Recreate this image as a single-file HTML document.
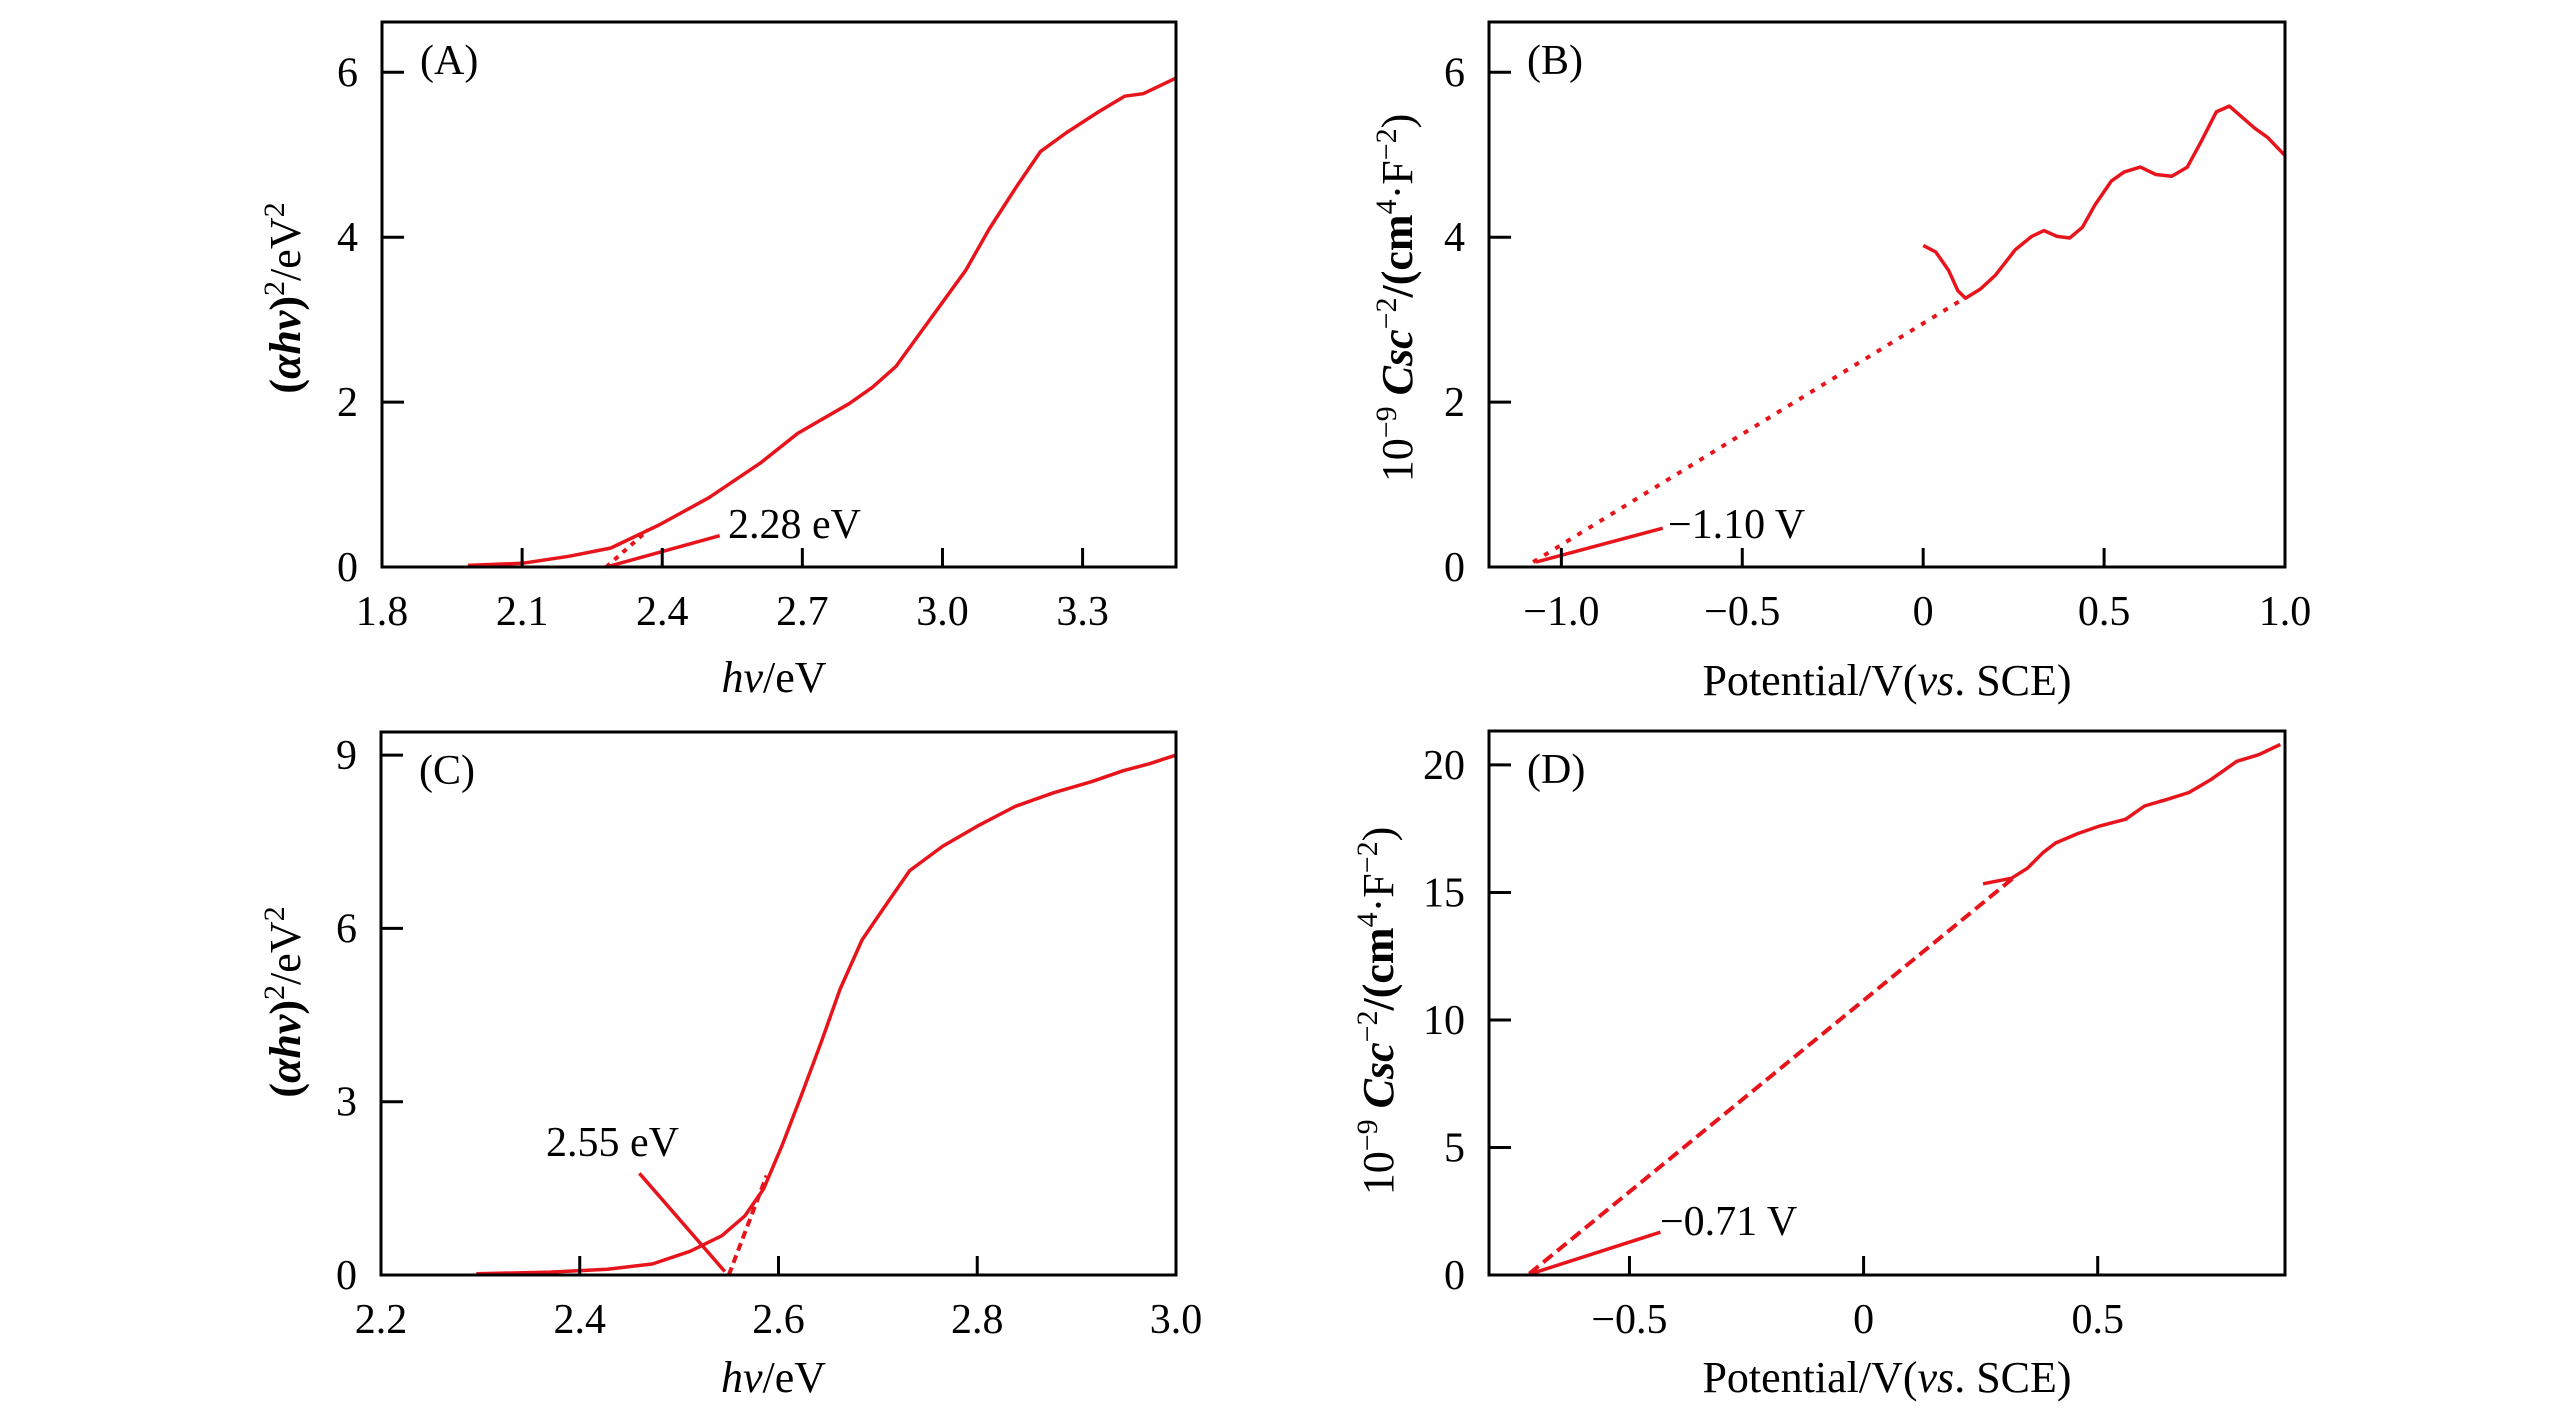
<!DOCTYPE html>
<html><head><meta charset="utf-8">
<style>
html,body{margin:0;padding:0;background:#fff;}
svg{display:block;font-family:"Liberation Serif",serif;}
</style></head>
<body>
<svg id="fig" width="2567" height="1417" viewBox="0 0 2567 1417" xmlns="http://www.w3.org/2000/svg"></svg>
<script>
// Panel A data
const aX=[1.984,2.1,2.2,2.29,2.393,2.5,2.61,2.69,2.80,2.85,2.90,2.95,3.0,3.05,3.10,3.157,3.21,3.266,3.334,3.39,3.43,3.50];
const aY=[0.02,0.045,0.13,0.23,0.51,0.84,1.26,1.62,1.98,2.18,2.43,2.82,3.21,3.60,4.10,4.60,5.04,5.27,5.52,5.71,5.74,5.93];
const aTanX=[2.28,2.37];const aTanY=[0,0.45];
const aPtrX=[2.28,2.523];const aPtrY=[0,0.38];
const aXTicks=[1.8,2.1,2.4,2.7,3.0,3.3];const aXTickLabels=["1.8","2.1","2.4","2.7","3.0","3.3"];
const aYTicks=[0,2,4,6];const aYTickLabels=["0","2","4","6"];
// Panel B data
const bX=[0.0,0.035,0.07,0.096,0.117,0.158,0.20,0.255,0.30,0.334,0.37,0.405,0.44,0.476,0.52,0.555,0.60,0.643,0.687,0.73,0.767,0.81,0.846,0.88,0.917,0.952,1.0];
const bY=[3.90,3.82,3.60,3.35,3.26,3.37,3.54,3.85,4.01,4.08,4.01,3.99,4.12,4.40,4.68,4.79,4.85,4.76,4.74,4.85,5.15,5.52,5.59,5.46,5.32,5.21,4.99];
const bTanX=[-1.078,0.114];const bTanY=[0.06,3.26];
const bPtrX=[-1.07,-0.72];const bPtrY=[0.06,0.47];
const bXTicks=[-1.0,-0.5,0,0.5,1.0];const bXTickLabels=["\u22121.0","\u22120.5","0","0.5","1.0"];
const bYTicks=[0,2,4,6];const bYTickLabels=["0","2","4","6"];
// Panel C data
const cX=[2.296,2.37,2.428,2.473,2.511,2.543,2.566,2.585,2.604,2.623,2.643,2.662,2.684,2.707,2.732,2.765,2.80,2.838,2.877,2.915,2.947,2.973,3.0];
const cY=[0.02,0.05,0.10,0.19,0.41,0.68,1.02,1.49,2.26,3.11,4.03,4.95,5.80,6.38,7.00,7.42,7.77,8.11,8.35,8.54,8.73,8.85,9.0];
const cTanX=[2.55,2.588];const cTanY=[0,1.72];
const cPtrX=[2.46,2.546];const cPtrY=[1.76,0.06];
const cXTicks=[2.2,2.4,2.6,2.8,3.0];const cXTickLabels=["2.2","2.4","2.6","2.8","3.0"];
const cYTicks=[0,3,6,9];const cYTickLabels=["0","3","6","9"];
// Panel D data
const dX=[0.255,0.316,0.35,0.383,0.41,0.458,0.505,0.56,0.60,0.648,0.695,0.743,0.797,0.844,0.89];
const dY=[15.34,15.56,15.95,16.56,16.94,17.31,17.61,17.87,18.39,18.65,18.92,19.44,20.14,20.40,20.80];
const dTanX=[-0.714,0.322];const dTanY=[0.05,15.6];
const dPtrX=[-0.71,-0.434];const dPtrY=[0.05,1.68];
const dXTicks=[-0.5,0,0.5];const dXTickLabels=["\u22120.5","0","0.5"];
const dYTicks=[0,5,10,15,20];const dYTickLabels=["0","5","10","15","20"];

const NS="http://www.w3.org/2000/svg";
const svg=document.getElementById('fig');
const RED="#e8141c";
function mk(tag,attrs,parent){const e=document.createElementNS(NS,tag);for(const k in attrs)e.setAttribute(k,attrs[k]);(parent||svg).appendChild(e);return e;}

function panel(cfg){
  const g=mk('g',{});
  
  
  const sx=v=>cfg.L+(v-cfg.x0)/(cfg.x1-cfg.x0)*(cfg.R-cfg.L);
  const sy=v=>cfg.B-(v-cfg.y0)/(cfg.y1-cfg.y0)*(cfg.B-cfg.T);
  const pts=(xs,ys)=>xs.map((x,i)=>sx(x).toFixed(1)+','+sy(ys[i]).toFixed(1)).join(' ');
  const tan=mk('polyline',{points:pts(cfg.tx,cfg.ty),fill:'none',stroke:RED,'stroke-width':4,'stroke-dasharray':cfg.dash},g);
  
  
  const ptr=mk('polyline',{points:pts(cfg.px,cfg.py),fill:'none',stroke:RED,'stroke-width':3.5},g);
  
  
  const ln=mk('polyline',{points:pts(cfg.xs,cfg.ys),fill:'none',stroke:RED,'stroke-width':3.5,'stroke-linejoin':'round'},g);
  
  
  const fr=mk('rect',{x:cfg.L,y:cfg.T,width:cfg.R-cfg.L,height:cfg.B-cfg.T,fill:'none',stroke:'#000','stroke-width':3},g);
  
  
  cfg.xt.forEach((v,i)=>{
    const x=sx(v);
    const t=mk('line',{x1:x,x2:x,y1:cfg.B,y2:cfg.B-19,stroke:'#000','stroke-width':3},g);
    
    
    const l=mk('text',{x:x,y:cfg.B+58,'text-anchor':'middle','font-size':42},g);
    l.textContent=cfg.xl[i];
    
    
  });
  cfg.yt.forEach((v,i)=>{
    const y=sy(v);
    const t=mk('line',{x1:cfg.L,x2:cfg.L+22,y1:y,y2:y,stroke:'#000','stroke-width':3},g);
    
    
    const l=mk('text',{x:cfg.L-24,y:y+14,'text-anchor':'end','font-size':42},g);
    l.textContent=cfg.yl[i];
    
    
  });
  const pl=mk('text',{x:cfg.L+38,y:cfg.T+52,'font-size':42},g);
  pl.textContent=cfg.letter;
  
  
  const an=mk('text',{x:cfg.ax,y:cfg.ay,'font-size':42},g);
  an.textContent=cfg.atext;
  
  
  const xt=mk('text',{x:(cfg.L+cfg.R)/2+cfg.xoff,y:cfg.xty,'text-anchor':'middle','font-size':44},g);
  xt.innerHTML=cfg.xtitle;
  
  
  const yt=mk('text',{x:0,y:0,'text-anchor':'middle','font-size':44,transform:`translate(${cfg.ytx},${cfg.yty}) rotate(-90)`},g);
  yt.innerHTML=cfg.ytitle;
  
  
}
const absT='<tspan font-weight="bold">(<tspan font-style="italic">αhν</tspan>)</tspan><tspan font-size="30" dy="-16">2</tspan><tspan dy="16">/eV</tspan><tspan font-size="30" dy="-16">2</tspan>';
const mstT='10<tspan font-size="30" dy="-16">\u22129</tspan><tspan dy="16" font-weight="bold"> <tspan font-style="italic">Csc</tspan></tspan><tspan font-size="30" dy="-16">\u22122</tspan><tspan dy="16" font-weight="bold">/(cm</tspan><tspan font-size="30" dy="-16">4</tspan><tspan dy="16">·F</tspan><tspan font-size="30" dy="-16">\u22122</tspan><tspan dy="16">)</tspan>';
const hvT='<tspan font-style="italic">hν</tspan>/eV';
const potT='Potential/V(<tspan font-style="italic">vs</tspan>. SCE)';

panel({name:'panel-a',L:382,R:1176,T:22,B:567,x0:1.8,x1:3.5,y0:0,y1:6.61,xs:aX,ys:aY,tx:aTanX,ty:aTanY,px:aPtrX,py:aPtrY,dash:'5 6',
  xt:aXTicks,xl:aXTickLabels,yt:aYTicks,yl:aYTickLabels,letter:'(A)',atext:'2.28 eV',ax:728,ay:538,xtitle:hvT,xoff:-5,xty:692,ytitle:absT,ytx:300,yty:298});
panel({name:'panel-b',L:1489,R:2285,T:22,B:567,x0:-1.2,x1:1.0,y0:0,y1:6.61,xs:bX,ys:bY,tx:bTanX,ty:bTanY,px:bPtrX,py:bPtrY,dash:'5 8',
  xt:bXTicks,xl:bXTickLabels,yt:bYTicks,yl:bYTickLabels,letter:'(B)',atext:'\u22121.10 V',ax:1668,ay:538,xtitle:potT,xoff:0,xty:695,ytitle:mstT,ytx:1412,yty:298});
panel({name:'panel-c',L:381,R:1176,T:732,B:1275,x0:2.2,x1:3.0,y0:0,y1:9.4,xs:cX,ys:cY,tx:cTanX,ty:cTanY,px:cPtrX,py:cPtrY,dash:'8 5',
  xt:cXTicks,xl:cXTickLabels,yt:cYTicks,yl:cYTickLabels,letter:'(C)',atext:'2.55 eV',ax:546,ay:1156,xtitle:hvT,xoff:-5,xty:1392,ytitle:absT,ytx:300,yty:1002});
panel({name:'panel-d',L:1489,R:2285,T:731,B:1275,x0:-0.8,x1:0.9,y0:0,y1:21.33,xs:dX,ys:dY,tx:dTanX,ty:dTanY,px:dPtrX,py:dPtrY,dash:'12 6',
  xt:dXTicks,xl:dXTickLabels,yt:dYTicks,yl:dYTickLabels,letter:'(D)',atext:'\u22120.71 V',ax:1660,ay:1235,xtitle:potT,xoff:0,xty:1392,ytitle:mstT,ytx:1393,yty:1011});
</script>
</body></html>
